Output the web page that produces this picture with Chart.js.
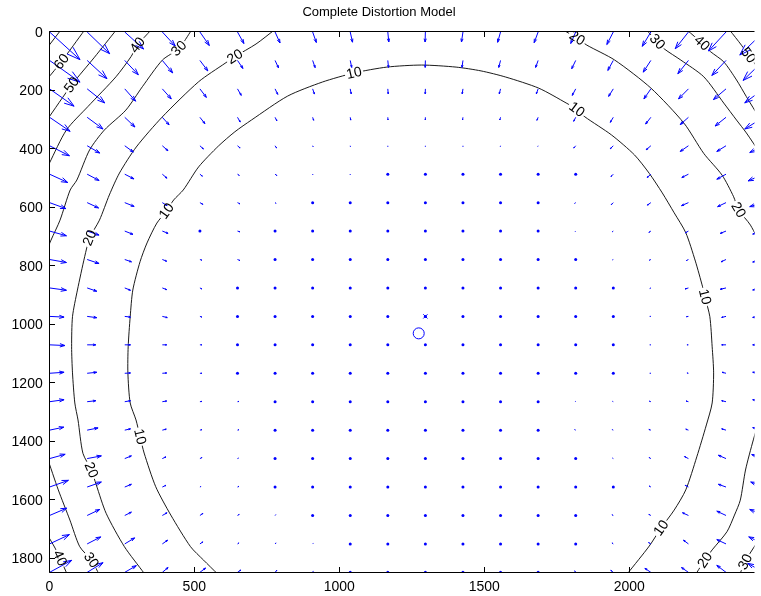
<!DOCTYPE html>
<html>
<head>
<meta charset="utf-8">
<title>Complete Distortion Model</title>
<script src="https://cdn.jsdelivr.net/npm/chart.js@4.4.1/dist/chart.umd.min.js"></script>
<style>
    html, body { margin: 0; padding: 0; background: #fff; overflow: hidden; }
    #wrap { width: 761px; height: 596px; }
</style>
</head>
<body>
<div id="wrap"><canvas id="chart" width="761" height="596"></canvas></div>
<script>
// Sample grid (image pixels)
const gridX = [1, 130.6, 260.2, 389.8, 519.4, 649, 778.6, 908.2, 1037.8, 1167.4, 1297, 1426.6, 1556.2, 1685.8, 1815.4, 1945, 2074.6, 2204.2, 2333.8, 2463.4];
const gridY = [1, 98.2, 195.4, 292.6, 389.8, 487, 584.2, 681.4, 778.6, 875.8, 973, 1070.2, 1167.4, 1264.6, 1361.8, 1459, 1556.2, 1653.4, 1750.6, 1847.8];

// Arrow components, one row per gridY entry
const distX = [
    [30.7, 22.7, 19, 13, 9.5, 6.5, 5, 3.7, 2.3, 1, -0.3, -1.5, -2.9, -4, -5, -6.5, -8.7, -13.3, -17.7, -24],
    [30.7, 20, 13.7, 10.5, 8, 5.5, 3.5, 2.5, 1.5, 0.7, -0.2, -1, -1.8, -2.5, -4, -5.5, -7.7, -10.7, -14.3, -20.7],
    [24.7, 17.7, 11, 9, 6.5, 3.8, 2.7, 1.8, 1, 0.4, -0.2, -0.8, -1.3, -1.8, -3.5, -4.7, -7, -10, -12.7, -19],
    [20.7, 16, 10.3, 6.8, 5, 2.8, 1.8, 1, 0.5, 0.2, -0.1, -0.4, -0.8, -1.2, -2, -3, -5.3, -8.3, -11, -19],
    [20, 12.7, 8.7, 5.7, 3.5, 2.6, 1.5, 0.5, 0.2, 0, 0, 0, -0.2, -0.3, -2, -3, -4.7, -8.3, -9.3, -14],
    [18.3, 12, 9.3, 4.7, 2.5, 1.8, 1.8, 0.2, 0, 0, 0, 0, 0, 0, -0.3, -2.3, -3.7, -6.7, -9.3, -15.7],
    [16.5, 11.5, 9.5, 4.8, 3, 2.5, 1, 0.2, 0, 0, 0, 0, 0, -0.5, -1, -2, -3.5, -7, -8.5, -14],
    [17, 12, 8.3, 5.8, 0.4, 2.4, 0.3, 0, 0, 0, 0, 0, 0, 0, -0.5, -1, -2, -3, -5.8, -11],
    [17, 12, 6.8, 4.4, 2, 2.4, 0.3, 0, 0, 0, 0, 0, 0, 0, 0, -0.7, -1.5, -2, -5, -11],
    [17, 9.7, 5.8, 4.4, 2, 0.5, 0, 0, 0, 0, 0, 0, 0, 0, 0, 0, -1, -3.4, -5.8, -11],
    [14.6, 9.7, 5.8, 5, 2, 0.5, 0, 0, 0, 0, 0, 0, -0.3, -0.3, 0, 0, -1, -2, -4.4, -11],
    [15.5, 8.7, 5.8, 4.4, 2, 0.5, 0, 0, 0, 0, 0, 0, 0, 0, 0, 0, -1, -1.5, -4.4, -11],
    [14.6, 9.7, 5.8, 4.4, 2, 0.5, 0, 0, 0, 0, 0, 0, 0, 0, 0, 0, -1, -1.5, -4, -11],
    [14.6, 8.7, 5.8, 4.4, 2, 1.5, 0.5, 0.3, 0, 0, 0, 0, 0, 0, -0.5, -0.7, -1.5, -2.4, -4.4, -11],
    [14.3, 11, 5.8, 4, 2, 1.5, 0.5, 0, 0, 0, 0, 0, 0, -0.3, -1, -1, -2, -2.7, -4.4, -11],
    [15.7, 14.3, 6.7, 3.7, 2, 1, 0.5, 0, 0, 0, 0, 0, 0, 0, 0, -0.7, -1.7, -4, -7.7, -12],
    [19, 14.3, 6.7, 3.7, 1, 1.5, 0.5, 0, 0, 0, 0, 0, 0, 0, 0, 0, -1.7, -3.3, -7.7, -13],
    [17.3, 12.7, 6.7, 4.7, 3, 1.7, 0.7, 0.3, 0, 0, 0, 0, 0, 0, -0.5, -1.3, -2, -6, -9.3, -14],
    [20, 13.7, 10, 5.3, 3, 1.5, 1, 0.5, 0, 0, 0, 0, 0, 0, 0, -1.3, -2.3, -5, -9.3, -15],
    [22.3, 16, 11.7, 5.8, 5.7, 3.3, 1.7, 0.5, 0, 0, 0, 0, 0, 0, -1, -2.5, -6, -7, -9.3, -16]
];
const distY = [
    [27.7, 21.7, 17, 14, 13.5, 11.5, 11, 10.5, 10.2, 10, 10, 10, 10.3, 10.7, 11.5, 12.5, 14.3, 16.7, 19, 23],
    [21.7, 18.3, 14.3, 12.5, 10.5, 8, 7.5, 7.2, 7, 7, 7, 7, 7, 7, 8.3, 10, 11.7, 13.3, 15, 20],
    [17.3, 14, 12.3, 10, 8.5, 6.5, 5.5, 5.2, 5, 5, 5, 5, 5, 5, 6.5, 7.5, 10, 10, 10.7, 14],
    [14, 11.7, 9.7, 7.5, 6.3, 4.7, 3.5, 3, 2.8, 2.6, 2.6, 2.6, 2.7, 3, 4, 5, 6.7, 7.3, 8.7, 11.7],
    [10, 7.3, 6.3, 5, 3.2, 2.2, 2.2, 1, 0.9, 0.8, 0.8, 0.8, 0.8, 0.6, 2.3, 3, 4, 5.7, 5.7, 6.7],
    [8.3, 6.3, 4.7, 4, 2, 1.2, 1.3, 0.7, 0.7, 0.3, 0.3, 0.3, 0.3, 0.3, 0.3, 2.3, 3.3, 3.3, 5, 6.7],
    [6, 5.3, 3.8, 3, 1.7, 1.2, 0.7, 0.2, 0, 0, 0, 0, 0, 0.3, 0.7, 2, 2.5, 3, 4, 4],
    [4.7, 4, 3.3, 2.3, 0.3, 0.7, 0.2, 0, 0, 0, 0, 0, 0, 0, 0.5, 0.7, 1.3, 1.7, 2.3, 3],
    [3, 4, 2.3, 1.7, 0.7, 1, 0.1, 0, 0, 0, 0, 0, 0, 0, 0, 0.3, 0.7, 1, 2.3, 2.5],
    [2.3, 3.3, 2.3, 1.7, 1, 0.3, 0, 0, 0, 0, 0, 0, 0, 0, 0, 0, 0.5, 1, 1.3, 2],
    [0.7, 1.3, 0.7, 1.2, 0.7, 0, 0, 0, 0, 0, 0, 0, 0, 0, 0, 0, 0, 0.3, 1, 1],
    [0.7, 0, 0, 0, 0, 0, 0, 0, 0, 0, 0, 0, 0, 0, 0, 0, 0, 0, 0, 0],
    [-1, -1, -0.3, -0.3, 0, 0, 0, 0, 0, 0, 0, 0, 0, 0, 0, 0, 0, -0.3, -1, -1],
    [-2, -1, -1, -0.7, -0.3, -0.3, 0, 0, 0, 0, 0, 0, 0, 0, -0.5, -0.3, -0.5, -0.7, -1, -2],
    [-3, -2.2, -1.3, -1, -0.5, -0.5, -0.2, 0, 0, 0, 0, 0, 0, -0.2, -0.5, -0.5, -0.7, -1, -1.3, -2.5],
    [-4.3, -2.7, -2.7, -1.7, -1, -0.5, -0.3, 0, 0, 0, 0, 0, 0, 0, 0, -0.5, -1, -2, -3.3, -4],
    [-6.7, -5, -2.7, -1.7, -0.5, -0.7, -0.3, 0, 0, 0, 0, 0, 0, 0, 0, 0, -1, -1.7, -2.7, -5],
    [-7.3, -6, -3.3, -2.7, -2, -1, -0.7, -0.3, 0, 0, 0, 0, 0, 0, -0.3, -0.7, -1, -2.7, -4.3, -6],
    [-9.3, -7, -6, -3.7, -2, -1, -1, -0.5, 0, 0, 0, 0, 0, 0, 0, -1, -1.3, -3.7, -4.3, -7],
    [-12, -9.7, -6.7, -4.8, -4.3, -2.3, -2, -1, -0.5, -0.5, -0.5, -0.5, 0, 0, -1.5, -2, -4, -4.8, -7, -9]
];
const arrowScale = 3.42; // quiver autoscale

// Image centre (x) and principal point (o)
const centerX = [1297], centerY = [973];
const principalX = [1274], principalY = [1031];

// Contour pieces [x, y], image pixels
const contour10 = [[580,1853],[532,1806],[487,1760],[419,1652],[367,1555],[327,1440],[313,1384],[299,1327],[279,1269],[271,1166],[272,1077],[279,974],[288,883],[313,786],[337,722],[371,654],[404,613],[429,575],[462,541],[515,462],[583,391],[640,342],[697,302],[822,220],[942,172],[1051,141],[1164,121],[1284,114],[1403,121],[1489,134],[1574,155],[1688,193],[1785,245],[1819,266],[1847,291],[1939,353],[2018,421],[2069,484],[2114,551],[2155,619],[2195,687],[2228,784],[2253,872],[2261,906],[2278,974],[2286,1077],[2291,1166],[2286,1269],[2266,1344],[2233,1453],[2195,1566],[2155,1635],[2110,1696],[2069,1758],[1995,1851],[1988,1862]];
const contour20a = [[775,-5],[713,42],[640,85],[606,108],[515,171],[389,292],[300,394],[242,483],[207,558],[173,644],[139,705],[122,769],[97,883],[80,974],[77,1077],[80,1166],[88,1269],[99,1327],[116,1441],[145,1498],[162,1549],[196,1646],[259,1760],[327,1851],[333,1862]];
const contour20b = [[1772,-6],[1820,22],[1854,46],[1950,97],[2075,193],[2189,313],[2257,416],[2320,490],[2360,564],[2377,609],[2418,661],[2462,746]];
const contour20c = [[2469,1259],[2428,1395],[2401,1498],[2383,1601],[2363,1652],[2337,1709],[2286,1771],[2261,1806],[2234,1847],[2228,1862]];
const contour30a = [[491,-6],[447,57],[390,97],[321,188],[264,268],[190,336],[139,404],[95,507],[72,541],[37,644],[6,712],[-8,746]];
const contour30b = [[-8,1453],[31,1566],[71,1669],[105,1760],[145,1806],[173,1857]];
const contour30c = [[2059,-6],[2097,34],[2121,59],[2178,97],[2257,154],[2326,244],[2370,302],[2404,346],[2455,421]];
const contour30d = [[2469,1703],[2417,1782],[2400,1812],[2377,1864]];
const contour40a = [[351,-6],[304,46],[282,85],[230,154],[133,256],[59,336],[0,450],[-11,473]];
const contour40b = [[-8,1717],[20,1765],[37,1799],[64,1860]];
const contour40c = [[2199,-6],[2251,39],[2280,68],[2326,103],[2370,165],[2404,222],[2449,295]];
const contour50a = [[231,-6],[156,87],[77,182],[-8,302]];
const contour50c = [[2346,-6],[2387,46],[2411,80],[2462,148]];
const contour60a = [[122,-6],[42,102],[-8,163]];
const contour70a = [[40,-6],[-8,56]];

const contourPieces = [contour10, contour20a, contour20b, contour20c, contour30a, contour30b, contour30c, contour30d,
    contour40a, contour40b, contour40c, contour50a, contour50c, contour60a, contour70a];

// [level, piece, vertex the label sits on]
const contourLabels = [
    [10, contour10, 6], [10, contour10, 16], [10, contour10, 25], [10, contour10, 33], [10, contour10, 43], [10, contour10, 52],
    [20, contour20a, 2], [20, contour20a, 10], [20, contour20a, 19], [20, contour20b, 1], [20, contour20b, 9], [20, contour20c, 7],
    [30, contour30a, 1], [30, contour30b, 4], [30, contour30c, 1], [30, contour30d, 2],
    [40, contour40a, 1], [40, contour40b, 2], [40, contour40c, 1],
    [50, contour50a, 2], [50, contour50c, 2], [60, contour60a, 1]
];

// Axes
const xTicks = [0, 500, 1000, 1500, 2000];
const yTicks = [0, 200, 400, 600, 800, 1000, 1200, 1400, 1600, 1800];

const FONT = '"Liberation Sans", Arial, Helvetica, sans-serif';
const BLUE = '#0000ff';

function labelGeometry(chart, piece, i) {
    const { x, y } = chart.scales;
    const a = piece[Math.max(i - 1, 0)], b = piece[Math.min(i + 1, piece.length - 1)];
    let ang = Math.atan2(y.getPixelForValue(b[1]) - y.getPixelForValue(a[1]),
                         x.getPixelForValue(b[0]) - x.getPixelForValue(a[0]));
    if (ang > Math.PI / 2) ang -= Math.PI;
    if (ang < -Math.PI / 2) ang += Math.PI;
    return { px: x.getPixelForValue(piece[i][0]), py: y.getPixelForValue(piece[i][1]), ang };
}

const distortionPlugin = {
    id: 'distortion',
    afterDatasetsDraw(chart) {
        const { ctx, chartArea: area, scales: { x, y } } = chart;
        ctx.save();
        ctx.beginPath();
        ctx.rect(area.left, area.top, area.right - area.left, area.bottom - area.top);
        ctx.clip();

        // gaps in the contour lines under the labels
        ctx.font = '14px ' + FONT;
        const labels = contourLabels.map(([lvl, piece, i]) => ({ text: String(lvl), ...labelGeometry(chart, piece, i) }));
        ctx.fillStyle = '#fff';
        labels.forEach(l => {
            const w = ctx.measureText(l.text).width + 3;
            ctx.save();
            ctx.translate(l.px, l.py);
            ctx.rotate(l.ang);
            ctx.fillRect(-w / 2, -6, w, 12);
            ctx.restore();
        });

        // quiver arrows
        ctx.strokeStyle = BLUE;
        ctx.fillStyle = BLUE;
        ctx.lineWidth = 1;
        gridY.forEach((gy, r) => {
            gridX.forEach((gx, c) => {
                const x0 = x.getPixelForValue(gx), y0 = y.getPixelForValue(gy);
                const x1 = x.getPixelForValue(gx + distX[r][c] * arrowScale);
                const y1 = y.getPixelForValue(gy + distY[r][c] * arrowScale);
                const u = x1 - x0, v = y1 - y0;
                if (Math.hypot(u, v) < 0.6) {
                    ctx.beginPath();
                    ctx.arc(x0, y0, 1.5, 0, Math.PI * 2);
                    ctx.fill();
                    return;
                }
                const al = 0.33, be = 0.33;
                ctx.beginPath();
                ctx.moveTo(x0, y0);
                ctx.lineTo(x1, y1);
                ctx.moveTo(x1 - al * (u + be * v), y1 - al * (v - be * u));
                ctx.lineTo(x1, y1);
                ctx.lineTo(x1 - al * (u - be * v), y1 - al * (v + be * u));
                ctx.stroke();
            });
        });

        // contour labels
        ctx.fillStyle = '#000';
        ctx.textAlign = 'center';
        ctx.textBaseline = 'middle';
        labels.forEach(l => {
            ctx.save();
            ctx.translate(l.px, l.py);
            ctx.rotate(l.ang);
            ctx.fillText(l.text, 0, 0.5);
            ctx.restore();
        });
        ctx.restore();
    },
    afterDraw(chart) {
        const { ctx, chartArea: area, scales: { x, y } } = chart;
        const crisp = v => Math.floor(v) + 0.5;
        const L = crisp(area.left), T = crisp(area.top), B = crisp(area.bottom);
        ctx.save();
        ctx.strokeStyle = '#000';
        ctx.lineWidth = 1;
        ctx.beginPath();
        ctx.moveTo(area.right, T); ctx.lineTo(L, T); ctx.lineTo(L, B); ctx.lineTo(area.right, B);
        xTicks.forEach(v => {
            const px = crisp(x.getPixelForValue(v));
            ctx.moveTo(px, B); ctx.lineTo(px, B - 5.5);
            ctx.moveTo(px, T); ctx.lineTo(px, T + 5.5);
        });
        yTicks.forEach(v => {
            const py = crisp(y.getPixelForValue(v));
            ctx.moveTo(L, py); ctx.lineTo(L + 5.5, py);
        });
        ctx.stroke();

        ctx.fillStyle = '#000';
        ctx.font = '14px ' + FONT;
        ctx.textBaseline = 'alphabetic';
        ctx.textAlign = 'center';
        xTicks.forEach(v => ctx.fillText(String(v), x.getPixelForValue(v), 591));
        ctx.textAlign = 'right';
        yTicks.forEach(v => ctx.fillText(String(v), 42.7, y.getPixelForValue(v) + 5));

        ctx.font = '13px ' + FONT;
        ctx.textAlign = 'center';
        ctx.fillText('Complete Distortion Model', 379, 16);
        ctx.restore();
    }
};

const lineStyle = { showLine: true, borderColor: '#000', borderWidth: 0.9, pointRadius: 0, tension: 0.25, fill: false };

new Chart(document.getElementById('chart'), {
    type: 'scatter',
    data: {
        datasets: [
            ...contourPieces.map(piece => ({ ...lineStyle, data: piece.map(([px, py]) => ({ x: px, y: py })) })),
            {
                data: principalX.map((v, i) => ({ x: v, y: principalY[i] })),
                pointStyle: 'circle', pointRadius: 5.5, borderColor: BLUE, borderWidth: 1, backgroundColor: 'rgba(0,0,0,0)'
            },
            {
                data: centerX.map((v, i) => ({ x: v, y: centerY[i] })),
                pointStyle: 'crossRot', pointRadius: 3, borderColor: BLUE, borderWidth: 1
            }
        ]
    },
    options: {
        responsive: false,
        animation: false,
        events: [],
        layout: { padding: { left: 49.3, right: 0, top: 31.7, bottom: 23.3 } },
        elements: { line: { capBezierPoints: false } },
        plugins: { legend: { display: false }, tooltip: { enabled: false }, title: { display: false } },
        scales: {
            x: { type: 'linear', min: 0, max: 2432, display: false },
            y: { type: 'linear', min: 0, max: 1849, reverse: true, display: false }
        }
    },
    plugins: [distortionPlugin]
});
</script>
</body>
</html>
